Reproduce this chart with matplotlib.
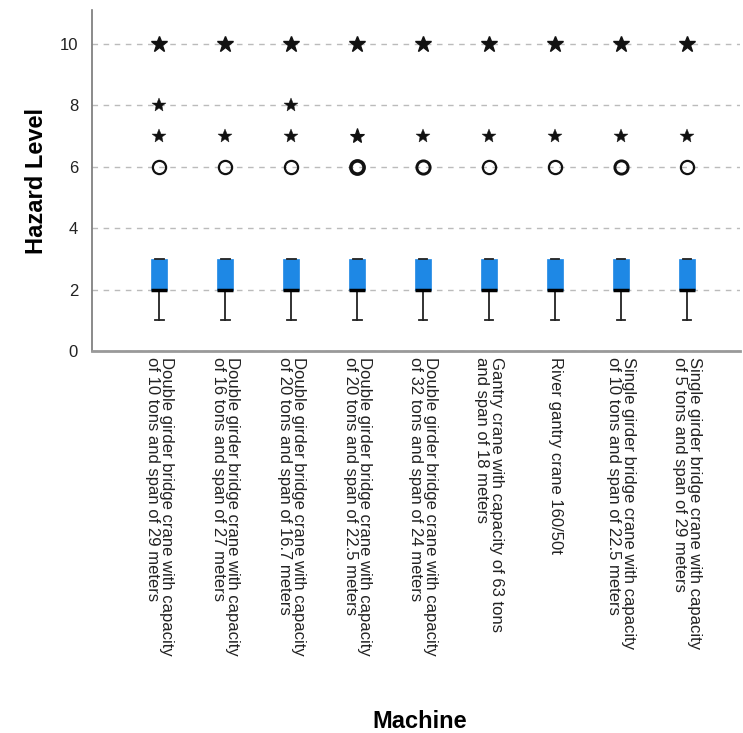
import matplotlib
matplotlib.use("Agg")
import matplotlib.pyplot as plt

plt.rcParams['font.family'] = ['Liberation Sans', 'DejaVu Sans']

machines = [
    "Double girder bridge crane with capacity\nof 10 tons and span of 29 meters",
    "Double girder bridge crane with capacity\nof 16 tons and span of 27 meters",
    "Double girder bridge crane with capacity\nof 20 tons and span of 16.7 meters",
    "Double girder bridge crane with capacity\nof 20 tons and span of 22.5 meters",
    "Double girder bridge crane with capacity\nof 32 tons and span of 24 meters",
    "Gantry crane with capacity of 63 tons\nand span of 18 meters",
    "River gantry crane 160/50t",
    "Single girder bridge crane with capacity\nof 10 tons and span of 22.5 meters",
    "Single girder bridge crane with capacity\nof 5 tons and span of 29 meters",
]

whisker_low = [1, 1, 1, 1, 1, 1, 1, 1, 1]
q1 = [2, 2, 2, 2, 2, 2, 2, 2, 2]
median = [2, 2, 2, 2, 2, 2, 2, 2, 2]
q3 = [3, 3, 3, 3, 3, 3, 3, 3, 3]
whisker_high = [3, 3, 3, 3, 3, 3, 3, 3, 3]

# outliers (circles) and extreme values (stars); count = overlapping cases
mild_values = [[6], [6], [6], [6], [6], [6], [6], [6], [6]]
mild_counts = [[1], [1], [1], [3], [2], [1], [1], [2], [1]]
extreme_values = [[7, 8, 10], [7, 10], [7, 8, 10], [7, 10], [7, 10],
                  [7, 10], [7, 10], [7, 10], [7, 10]]
extreme_counts = [[1, 1, 3], [1, 3], [1, 1, 3], [2, 3], [1, 3],
                  [1, 3], [1, 3], [1, 3], [1, 3]]

fig = plt.figure(figsize=(7.43, 7.33), dpi=100)
ax = fig.add_axes([0.1238, 0.521, 0.872, 0.465])

positions = list(range(len(machines)))
stats = []
for i in positions:
    stats.append(dict(whislo=whisker_low[i], q1=q1[i], med=median[i],
                      q3=q3[i], whishi=whisker_high[i], fliers=[]))

ax.bxp(stats, positions=positions, widths=0.24, patch_artist=True,
       showfliers=False,
       boxprops=dict(facecolor='#1e88e5', edgecolor='#1e88e5', linewidth=0.5),
       medianprops=dict(color='black', linewidth=2.5),
       whiskerprops=dict(color='#222222', linewidth=1.3),
       capprops=dict(color='#222222', linewidth=1.3),
       capwidths=0.13, zorder=3)

for i in positions:
    for v, c in zip(mild_values[i], mild_counts[i]):
        ax.plot(i, v, marker='o', markersize=9.5, markerfacecolor='none',
                markeredgecolor='#111111', markeredgewidth=1.6 + 0.5 * (c - 1),
                zorder=4)
    for v, c in zip(extreme_values[i], extreme_counts[i]):
        if c >= 3:
            size, mew = 12, 1.0
        elif c == 2:
            size, mew = 11, 0.8
        else:
            size, mew = 10, 0.3
        ax.plot(i, v, marker='*', markersize=size, color='#111111',
                markeredgecolor='#111111', markeredgewidth=mew, zorder=4)

ax.set_xlim(-1.02, 8.8)
ax.set_ylim(0, 11.1)
ax.set_yticks([0, 2, 4, 6, 8, 10])
ax.yaxis.grid(True, linestyle=(0, (4, 4)), color='#bbbbbb', linewidth=1)
ax.set_axisbelow(True)

for s in ['top', 'right']:
    ax.spines[s].set_visible(False)
ax.spines['left'].set_color('#777777')
ax.spines['bottom'].set_color('#999999')
ax.spines['bottom'].set_linewidth(2)
ax.spines['left'].set_linewidth(1.2)

ax.tick_params(axis='both', length=0, colors='#222222')
ax.tick_params(axis='y', labelsize=12, pad=10)
ax.set_xticks(positions)
ax.set_xticklabels(machines, rotation=-90, ha='center', va='top',
                   multialignment='left', fontsize=12, linespacing=0.95)
ax.tick_params(axis='x', pad=4)

ax.set_ylabel('Hazard Level', fontsize=17, fontweight='bold')
ax.yaxis.set_label_coords(-0.068, 0.5)
fig.text(0.565, 0.007, 'Machine', fontsize=17, fontweight='bold', ha='center')

fig.savefig('out.png', dpi=100)
